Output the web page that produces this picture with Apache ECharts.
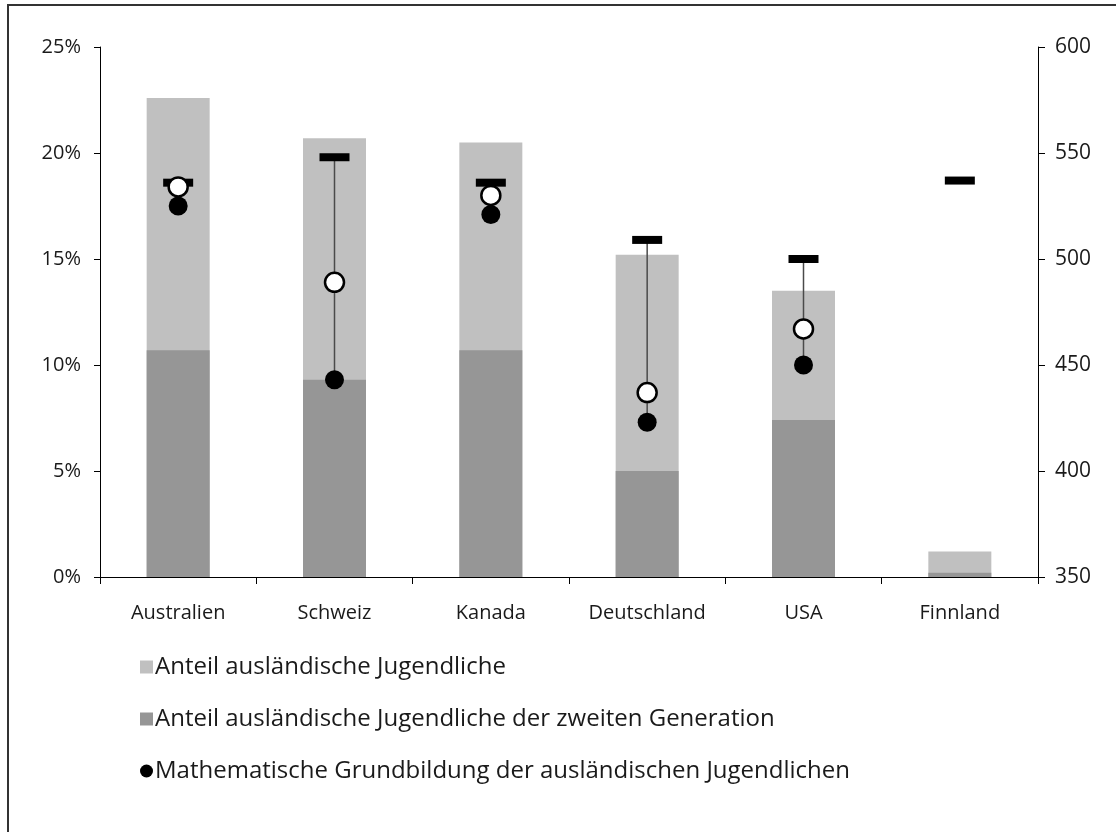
<!DOCTYPE html>
<html>
<head>
<meta charset="utf-8">
<script src="https://cdn.jsdelivr.net/npm/echarts@6/dist/echarts.min.js"></script>
<style>
  html, body { margin: 0; padding: 0; background: #fff; }
  #chart { width: 1116px; height: 832px; }
</style>
</head>
<body>
<div id="chart"></div>
<script>
// Länder
const categories = ['Australien', 'Schweiz', 'Kanada', 'Deutschland', 'USA', 'Finnland'];

// Anteile in Prozent (linke Achse)
const anteilAuslaendisch = [22.6, 20.7, 20.5, 15.2, 13.5, 1.2];
const anteilZweiteGeneration = [10.7, 9.3, 10.7, 5.0, 7.4, 0.2];

// Mathematische Grundbildung, Punkte (rechte Achse)
const mathAuslaendisch = [525, 443, 521, 423, 450, null];
const mathZweiteGeneration = [534, 489, 530, 437, 467, null];
const mathEinheimisch = [536, 548, 536, 509, 500, 537];

// Achsenbeschriftungen
const leftTicks = [0, 5, 10, 15, 20, 25];
const rightTicks = [350, 400, 450, 500, 550, 600];

const FONT = '"Open Sans", "Noto Sans", sans-serif';
const chart = echarts.init(document.getElementById('chart'), null, { renderer: 'canvas' });

// Verbindungslinie zwischen einheimischen und ausländischen Jugendlichen
const whiskerData = categories.map((c, i) => [i, mathEinheimisch[i], mathAuslaendisch[i]]);

const option = {
  animation: false,
  backgroundColor: '#ffffff',
  textStyle: { fontFamily: FONT },
  grid: { left: 100, right: 78, top: 47, bottom: 255, containLabel: false },
  legend: {
    orient: 'vertical',
    left: 135,
    top: 647,
    itemWidth: 13,
    itemHeight: 13,
    itemGap: 22,
    selectedMode: false,
    textStyle: { fontFamily: FONT, fontSize: 24, color: '#1a1a1a', lineHeight: 30, padding: [0, 0, 0, -3] },
    data: [
      { name: 'Anteil ausländische Jugendliche', icon: 'rect' },
      { name: 'Anteil ausländische Jugendliche der zweiten Generation', icon: 'rect' },
      { name: 'Mathematische Grundbildung der ausländischen Jugendlichen', icon: 'circle' }
    ]
  },
  xAxis: {
    type: 'category',
    data: categories,
    axisLine: { lineStyle: { color: '#000', width: 1 } },
    axisTick: { show: true, length: 7, lineStyle: { color: '#000' } },
    axisLabel: { color: '#1a1a1a', fontSize: 20, margin: 26, fontFamily: FONT }
  },
  yAxis: [
    {
      type: 'value',
      min: leftTicks[0],
      max: leftTicks[leftTicks.length - 1],
      interval: 5,
      splitLine: { show: false },
      axisLine: { show: true, lineStyle: { color: '#000', width: 1 } },
      axisTick: { show: true, length: 6, lineStyle: { color: '#000' } },
      axisLabel: { color: '#1a1a1a', fontSize: 20, margin: 19, formatter: v => v + '%', fontFamily: FONT }
    },
    {
      type: 'value',
      position: 'right',
      min: rightTicks[0],
      max: rightTicks[rightTicks.length - 1],
      interval: 50,
      splitLine: { show: false },
      axisLine: { show: true, lineStyle: { color: '#000', width: 1 } },
      axisTick: { show: true, length: 7, lineStyle: { color: '#000' } },
      axisLabel: { color: '#1a1a1a', fontSize: 21, margin: 17, fontFamily: FONT }
    }
  ],
  series: [
    {
      name: 'Anteil ausländische Jugendliche',
      type: 'bar',
      yAxisIndex: 0,
      data: anteilAuslaendisch,
      barWidth: 63,
      barGap: '-100%',
      itemStyle: { color: '#c0c0c0' },
      z: 1
    },
    {
      name: 'Anteil ausländische Jugendliche der zweiten Generation',
      type: 'bar',
      yAxisIndex: 0,
      data: anteilZweiteGeneration,
      barWidth: 63,
      barGap: '-100%',
      itemStyle: { color: '#969696' },
      z: 2
    },
    {
      name: 'Spannweite',
      type: 'custom',
      yAxisIndex: 1,
      data: whiskerData,
      z: 3,
      renderItem: function (params, api) {
        const x = api.value(0);
        const top = api.coord([x, api.value(1)]);
        const children = [];
        if (api.value(2) != null && !isNaN(api.value(2))) {
          const bottom = api.coord([x, api.value(2)]);
          children.push({
            type: 'line',
            shape: { x1: top[0], y1: top[1], x2: bottom[0], y2: bottom[1] },
            style: { stroke: '#4a4a4a', lineWidth: 1.5 }
          });
        }
        children.push({
          type: 'rect',
          shape: { x: top[0] - 15, y: top[1] - 4, width: 30, height: 8 },
          style: { fill: '#000' }
        });
        return { type: 'group', children: children };
      },
      encode: { x: 0, y: 1 }
    },
    {
      name: 'Mathematische Grundbildung der ausländischen Jugendlichen',
      type: 'scatter',
      yAxisIndex: 1,
      data: mathAuslaendisch,
      symbol: 'circle',
      symbolSize: 19,
      itemStyle: { color: '#000', opacity: 1 },
      z: 4
    },
    {
      name: 'Mathematische Grundbildung der zweiten Generation',
      type: 'scatter',
      yAxisIndex: 1,
      data: mathZweiteGeneration,
      symbol: 'circle',
      symbolSize: 19,
      itemStyle: { color: '#fff', borderColor: '#000', borderWidth: 2.5, opacity: 1 },
      z: 5
    }
  ],
  graphic: [
    {
      type: 'polyline',
      shape: { points: [[8, 832], [8, 5], [1116, 5]] },
      style: { stroke: '#333', lineWidth: 2, fill: null },
      z: 10,
      silent: true
    }
  ]
};

chart.setOption(option);
</script>
</body>
</html>
